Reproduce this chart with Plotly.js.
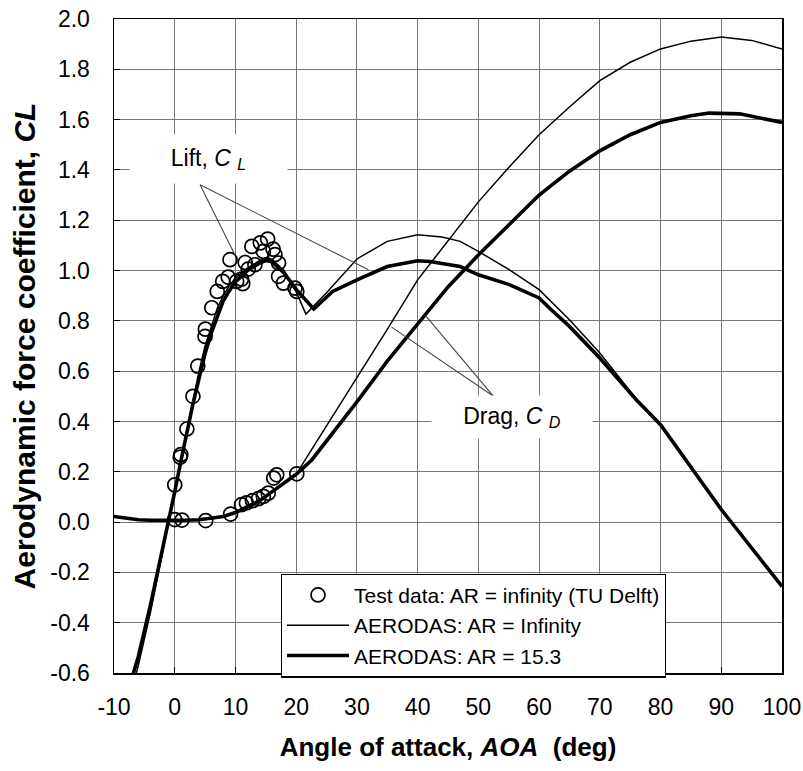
<!DOCTYPE html>
<html>
<head>
<meta charset="utf-8">
<script src="https://cdn.plot.ly/plotly-3.0.1.min.js"></script>
<style>html,body{margin:0;padding:0;background:#fff;}#chart{width:803px;height:771px;}</style>
</head>
<body>
<div id="chart"></div>
<script>
// ---- Test data (TU Delft, AR = infinity) ----
var testAoaLift = [0.0, 0.9, 1.0, 2.0, 3.0, 3.8, 5.0, 5.05, 6.1, 7.0, 7.9, 8.8, 9.1, 10.2, 11.0, 11.2, 11.6, 12.1, 12.7, 13.2, 14.1, 14.6, 15.3, 16.2, 16.5, 17.1, 17.1, 17.9, 19.8, 20.1];
var testCL      = [0.148, 0.258, 0.268, 0.37, 0.50, 0.62, 0.738, 0.767, 0.852, 0.917, 0.957, 0.974, 1.043, 0.957, 0.966, 0.948, 1.032, 1.006, 1.096, 1.023, 1.11, 1.076, 1.125, 1.085, 1.063, 1.03, 0.977, 0.95, 0.93, 0.917];
var testAoaDrag = [0.0, 1.2, 5.1, 9.2, 11.0, 11.8, 12.8, 13.8, 14.6, 15.4, 16.3, 16.8, 20.1];
var testCD      = [0.01, 0.008, 0.006, 0.032, 0.069, 0.076, 0.085, 0.093, 0.102, 0.115, 0.175, 0.188, 0.192];

// ---- AERODAS, AR = Infinity (thin line) ----
var infAoaLift = [-10, -8, -6, -4, -2, -1, 0, 1, 2, 3, 4, 5, 6, 7, 8, 9, 10, 12, 14, 15, 16, 18, 20, 21.6, 25, 30, 35, 40, 44, 47, 50, 55, 60, 62, 65, 70, 76, 80, 90, 100];
var infCL      = [-0.95, -0.76, -0.57, -0.36, -0.12, 0.0, 0.125, 0.25, 0.37, 0.49, 0.60, 0.70, 0.78, 0.85, 0.90, 0.94, 0.97, 1.01, 1.04, 1.05, 1.045, 1.0, 0.915, 0.827, 0.912, 1.046, 1.116, 1.142, 1.133, 1.116, 1.076, 1.005, 0.924, 0.877, 0.804, 0.672, 0.49, 0.387, 0.05, -0.256];
var infAoaDrag = [-10, -8, -6, -4, -2, 0, 2, 4, 6, 8, 10, 12, 14, 16, 18, 20, 21.5, 25, 30, 35, 40, 45, 50, 55, 60, 65, 70, 75, 80, 85, 90, 95, 100];
var infCD      = [0.022, 0.014, 0.009, 0.007, 0.006, 0.006, 0.007, 0.009, 0.014, 0.022, 0.038, 0.06, 0.085, 0.12, 0.155, 0.19, 0.248, 0.382, 0.574, 0.766, 0.963, 1.118, 1.273, 1.41, 1.54, 1.65, 1.755, 1.828, 1.881, 1.912, 1.928, 1.915, 1.881];

// ---- AERODAS, AR = 15.3 (thick line) ----
var arAoaLift = [-10, -8, -6, -4, -2, -1, 0, 1, 2, 3, 4, 5, 6, 7, 8, 9, 10, 12, 14, 15, 16, 18, 20, 22.9, 26, 30, 35, 40, 42, 47, 50, 55, 60, 62, 65, 70, 76, 80, 90, 100];
var arCL      = [-0.86, -0.70, -0.535, -0.33, -0.11, 0.0, 0.12, 0.24, 0.36, 0.47, 0.57, 0.67, 0.75, 0.82, 0.88, 0.92, 0.955, 1.0, 1.03, 1.04, 1.035, 0.99, 0.925, 0.847, 0.917, 0.963, 1.016, 1.039, 1.036, 1.016, 0.983, 0.945, 0.891, 0.844, 0.778, 0.652, 0.486, 0.387, 0.05, -0.256];
var arAoaDrag = [-10, -8, -6, -4, -2, 0, 2, 4, 6, 8, 10, 12, 14, 16, 18, 20, 22.6, 25, 30, 35, 40, 45, 50, 55, 60, 65, 70, 75, 80, 85, 88, 93, 100];
var arCD      = [0.022, 0.014, 0.009, 0.007, 0.006, 0.006, 0.007, 0.009, 0.014, 0.022, 0.038, 0.06, 0.085, 0.12, 0.155, 0.19, 0.248, 0.322, 0.478, 0.64, 0.79, 0.935, 1.062, 1.183, 1.30, 1.395, 1.476, 1.54, 1.589, 1.615, 1.626, 1.623, 1.589];

// ---- Tick labels ----
var xTickVals = [-10, 0, 10, 20, 30, 40, 50, 60, 70, 80, 90, 100];
var xTickText = ['-10', '0', '10', '20', '30', '40', '50', '60', '70', '80', '90', '100'];
var yTickVals = [-0.6, -0.4, -0.2, 0.0, 0.2, 0.4, 0.6, 0.8, 1.0, 1.2, 1.4, 1.6, 1.8, 2.0];
var yTickText = ['-0.6', '-0.4', '-0.2', '0.0', '0.2', '0.4', '0.6', '0.8', '1.0', '1.2', '1.4', '1.6', '1.8', '2.0'];

var FONT = 'Liberation Sans, Arial, sans-serif';
var markerStyle = {symbol: 'circle-open', size: 14, color: '#000', line: {color: '#000', width: 1.7}};

var traces = [
  {x: testAoaLift, y: testCL, type: 'scatter', mode: 'markers', marker: markerStyle,
   name: 'Test data: AR = infinity (TU Delft)', legendgroup: 'test', showlegend: true},
  {x: testAoaDrag, y: testCD, type: 'scatter', mode: 'markers', marker: markerStyle,
   name: 'Test data drag', legendgroup: 'test', showlegend: false},
  {x: infAoaLift, y: infCL, type: 'scatter', mode: 'lines', line: {color: '#000', width: 1.5},
   name: 'AERODAS: AR = Infinity', legendgroup: 'inf', showlegend: true},
  {x: infAoaDrag, y: infCD, type: 'scatter', mode: 'lines', line: {color: '#000', width: 1.5},
   name: 'AERODAS inf drag', legendgroup: 'inf', showlegend: false},
  {x: arAoaLift, y: arCL, type: 'scatter', mode: 'lines', line: {color: '#000', width: 3.6},
   name: 'AERODAS: AR = 15.3', legendgroup: 'ar', showlegend: true},
  {x: arAoaDrag, y: arCD, type: 'scatter', mode: 'lines', line: {color: '#000', width: 3.6},
   name: 'AERODAS ar drag', legendgroup: 'ar', showlegend: false}
];

var leader = {color: '#444', width: 1.1};
var layout = {
  width: 803, height: 771,
  margin: {l: 114, r: 21, t: 19, b: 98},
  paper_bgcolor: '#fff', plot_bgcolor: '#fff',
  font: {family: FONT, size: 22, color: '#000'},
  showlegend: true,
  xaxis: {
    range: [-10, 100], tickvals: xTickVals, ticktext: xTickText,
    showgrid: true, gridcolor: '#777', gridwidth: 1,
    showline: true, mirror: true, linecolor: '#000', linewidth: 1.5,
    ticks: 'inside', ticklen: 6, tickcolor: '#000',
    ticklabelstandoff: 13, zeroline: false,
    tickfont: {family: FONT, size: 23, color: '#000'},
    title: {text: 'Angle of attack, <i>AOA</i> &nbsp;(deg)', standoff: 18,
            font: {family: FONT, size: 26, color: '#000', weight: 'bold'}}
  },
  yaxis: {
    range: [-0.6, 2.0], tickvals: yTickVals, ticktext: yTickText,
    showgrid: true, gridcolor: '#777', gridwidth: 1,
    showline: true, mirror: true, linecolor: '#000', linewidth: 1.5,
    ticks: 'inside', ticklen: 6, tickcolor: '#000',
    ticklabelstandoff: 18, zeroline: false,
    tickfont: {family: FONT, size: 23, color: '#000'},
    title: {text: 'Aerodynamic force coefficient, <i>CL</i>', standoff: 6,
            font: {family: FONT, size: 30, color: '#000', weight: 'bold'}}
  },
  legend: {
    x: 0.2497, y: 0.152, xanchor: 'left', yanchor: 'top',
    bgcolor: '#fff', bordercolor: '#000', borderwidth: 1.2,
    font: {family: FONT, size: 21, color: '#000'},
    itemwidth: 62, tracegroupgap: 0
  },
  shapes: [
    {type: 'line', xref: 'x', yref: 'y', x0: 4.17, y0: 1.341, x1: 9.9, y1: 1.063, line: leader},
    {type: 'line', xref: 'x', yref: 'y', x0: 4.17, y0: 1.341, x1: 31.9, y1: 1.003, line: leader},
    {type: 'line', xref: 'x', yref: 'y', x0: 52.5, y0: 0.5, x1: 35.7, y1: 0.775, line: leader},
    {type: 'line', xref: 'x', yref: 'y', x0: 52.5, y0: 0.5, x1: 41.2, y1: 0.824, line: leader}
  ],
  annotations: [
    {xref: 'x', yref: 'y', x: 5.5, y: 1.445, text: 'Lift, <i>C</i> <sub><i>L</i></sub>',
     showarrow: false, bgcolor: '#fff', width: 155, height: 46,
     font: {family: FONT, size: 23, color: '#000'}},
    {xref: 'x', yref: 'y', x: 55.6, y: 0.419, text: 'Drag, <i>C</i> <sub><i>D</i></sub>',
     showarrow: false, bgcolor: '#fff', width: 158, height: 40,
     font: {family: FONT, size: 23, color: '#000'}}
  ]
};

Plotly.newPlot('chart', traces, layout, {displayModeBar: false, staticPlot: true});
</script>
</body>
</html>
